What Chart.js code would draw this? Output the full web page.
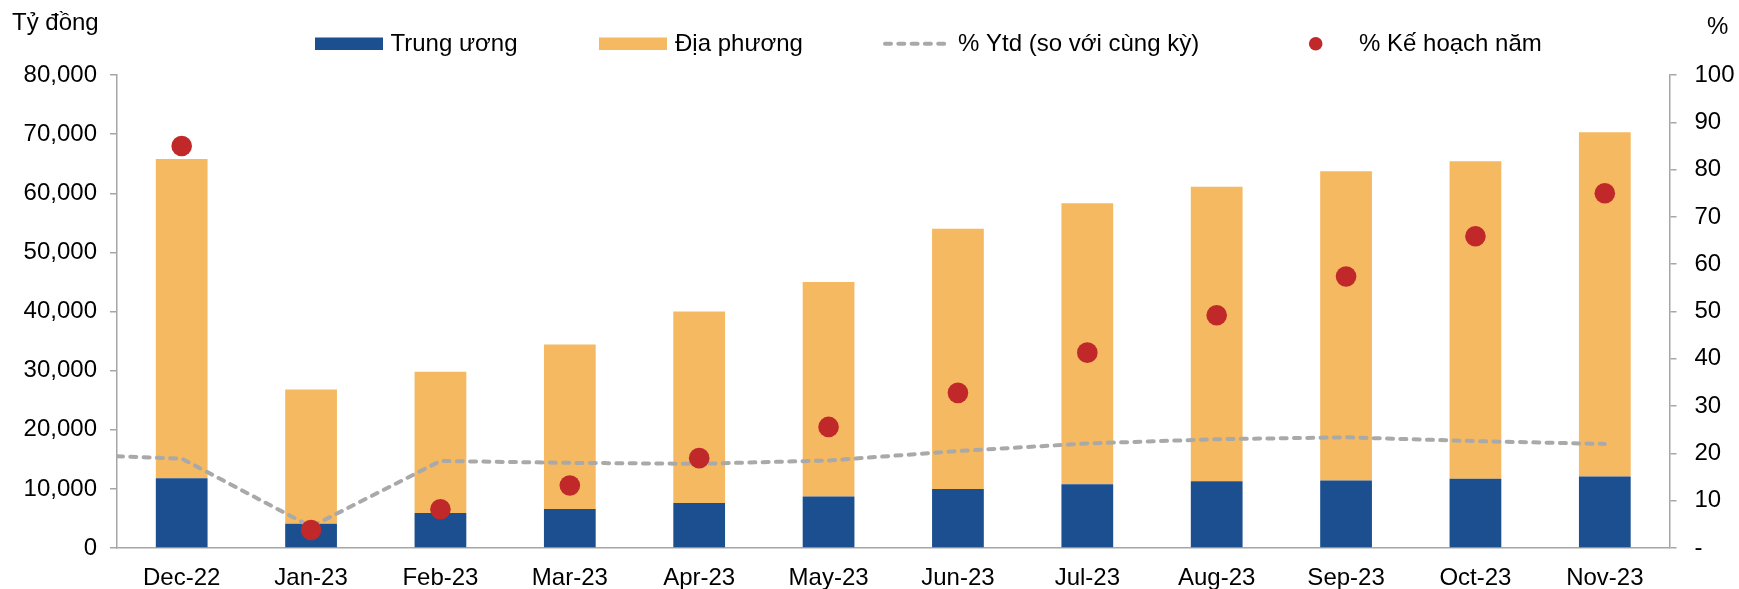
<!DOCTYPE html>
<html>
<head>
<meta charset="utf-8">
<script src="https://cdn.jsdelivr.net/npm/chart.js@4"></script>
<style>
  html, body { margin: 0; padding: 0; background: #fff; }
  #wrap { position: relative; width: 1739px; height: 589px; }
</style>
</head>
<body>
<div id="wrap"><canvas id="c" width="1739" height="589"></canvas></div>
<script>
const categories = ['Dec-22','Jan-23','Feb-23','Mar-23','Apr-23','May-23','Jun-23','Jul-23','Aug-23','Sep-23','Oct-23','Nov-23'];
const trungUong = [11800, 4100, 5900, 6600, 7600, 8700, 10000, 10800, 11300, 11400, 11700, 12100];
const diaPhuong = [54000, 22700, 23900, 27800, 32400, 36300, 44000, 47500, 49800, 52300, 53700, 58200];
const ytdPct = [18.9, 4.5, 18.4, 18.0, 17.8, 18.5, 20.5, 22.1, 23.0, 23.4, 22.6, 22.0];
const ytdPrevEdge = 19.4;
const keHoachPct = [85.0, 3.8, 8.2, 13.2, 19.0, 25.6, 32.8, 41.3, 49.2, 57.4, 65.9, 75.0];
const leftTicks = [0, 10000, 20000, 30000, 40000, 50000, 60000, 70000, 80000];
const rightTicks = [0, 10, 20, 30, 40, 50, 60, 70, 80, 90, 100];
const legendLabels = ['Trung ương', 'Địa phương', '% Ytd (so với cùng kỳ)', '% Kế hoạch năm'];

const FONT = '"Liberation Sans", Arial, sans-serif';
const FS = 24;
const BLUE = '#1B4F8F';
const ORANGE = '#F4B961';
const RED = '#C0282A';
const GREY = '#A9A9A9';
const AXIS = '#A6A6A6';

const ytdData = [{x: -0.5, y: ytdPrevEdge}].concat(ytdPct.map((v, i) => ({x: i, y: v})));

const overlay = {
  id: 'overlay',
  afterDraw(chart) {
    const ctx = chart.ctx;
    ctx.save();
    ctx.font = FS + 'px ' + FONT;
    ctx.fillStyle = '#000';
    ctx.textBaseline = 'middle';
    ctx.textAlign = 'left';
    ctx.fillText('Tỷ đồng', 12, 23);
    ctx.fillText('%', 1707, 27);
    const ly = 44;
    ctx.fillStyle = BLUE;
    ctx.fillRect(315, 37.5, 68, 12.5);
    ctx.fillStyle = ORANGE;
    ctx.fillRect(599, 37.5, 68, 12.5);
    ctx.strokeStyle = GREY;
    ctx.lineWidth = 4;
    ctx.lineCap = 'round';
    ctx.setLineDash([6, 7.3]);
    ctx.beginPath();
    ctx.moveTo(885, 43.7);
    ctx.lineTo(948, 43.7);
    ctx.stroke();
    ctx.setLineDash([]);
    ctx.fillStyle = RED;
    ctx.beginPath();
    ctx.arc(1315.7, 43.7, 6.8, 0, Math.PI * 2);
    ctx.fill();
    ctx.fillStyle = '#000';
    ctx.fillText(legendLabels[0], 390.5, ly);
    ctx.fillText(legendLabels[1], 675, ly);
    ctx.fillText(legendLabels[2], 958, ly);
    ctx.fillText(legendLabels[3], 1359, ly);
    ctx.restore();
  }
};

new Chart(document.getElementById('c'), {
  type: 'bar',
  data: {
    labels: categories,
    datasets: [
      {
        type: 'scatter',
        label: legendLabels[3],
        data: keHoachPct,
        xAxisID: 'x',
        yAxisID: 'y1',
        showLine: false,
        pointRadius: 10.3,
        pointHoverRadius: 10.3,
        pointBackgroundColor: RED,
        pointBorderWidth: 0,
        order: 0
      },
      {
        type: 'line',
        label: legendLabels[2],
        data: ytdData,
        xAxisID: 'x2',
        yAxisID: 'y1',
        borderColor: GREY,
        borderWidth: 4,
        borderDash: [6, 7.3],
        borderCapStyle: 'round',
        pointRadius: 0,
        tension: 0,
        fill: false,
        order: 1
      },
      {
        type: 'bar',
        label: legendLabels[0],
        data: trungUong,
        backgroundColor: BLUE,
        xAxisID: 'x',
        yAxisID: 'y',
        stack: 's',
        grouped: false,
        barPercentage: 0.4,
        categoryPercentage: 1.0,
        order: 2
      },
      {
        type: 'bar',
        label: legendLabels[1],
        data: diaPhuong,
        backgroundColor: ORANGE,
        xAxisID: 'x',
        yAxisID: 'y',
        stack: 's',
        grouped: false,
        barPercentage: 0.4,
        categoryPercentage: 1.0,
        order: 3
      }
    ]
  },
  options: {
    responsive: false,
    animation: false,
    devicePixelRatio: 1,
    layout: { padding: { top: 75, left: 0, right: 0, bottom: 0 } },
    plugins: {
      legend: { display: false },
      title: { display: false },
      tooltip: { enabled: false }
    },
    scales: {
      x: {
        type: 'category',
        offset: true,
        stacked: true,
        grid: { display: false, drawTicks: false },
        border: { display: true, color: AXIS, width: 1.5 },
        ticks: { font: { size: FS, family: FONT }, color: '#000', padding: 15.5, maxRotation: 0, autoSkip: false },
        afterFit(s) { s.height = 41; }
      },
      x2: {
        type: 'linear',
        display: false,
        offset: false,
        grid: { offset: false },
        min: -0.5,
        max: 11.5
      },
      y: {
        position: 'left',
        stacked: true,
        min: leftTicks[0],
        max: leftTicks[leftTicks.length - 1],
        afterBuildTicks(s) { s.ticks = leftTicks.map(v => ({value: v})); },
        grid: { drawOnChartArea: false, drawTicks: true, tickLength: 7, color: AXIS, lineWidth: 1.5 },
        border: { display: true, color: AXIS, width: 1.5 },
        ticks: {
          font: { size: FS, family: FONT }, color: '#000', padding: 13,
          callback: (v) => Number(v).toLocaleString('en-US')
        },
        afterFit(s) { s.width = 117; }
      },
      y1: {
        position: 'right',
        min: rightTicks[0],
        max: rightTicks[rightTicks.length - 1],
        afterBuildTicks(s) { s.ticks = rightTicks.map(v => ({value: v})); },
        grid: { drawOnChartArea: false, drawTicks: true, tickLength: 7, color: AXIS, lineWidth: 1.5 },
        border: { display: true, color: AXIS, width: 1.5 },
        ticks: {
          font: { size: FS, family: FONT }, color: '#000', padding: 18,
          callback: (v) => (v === 0 ? '-' : String(v))
        },
        afterFit(s) { s.width = 69.5; }
      }
    }
  },
  plugins: [overlay]
});
</script>
</body>
</html>
